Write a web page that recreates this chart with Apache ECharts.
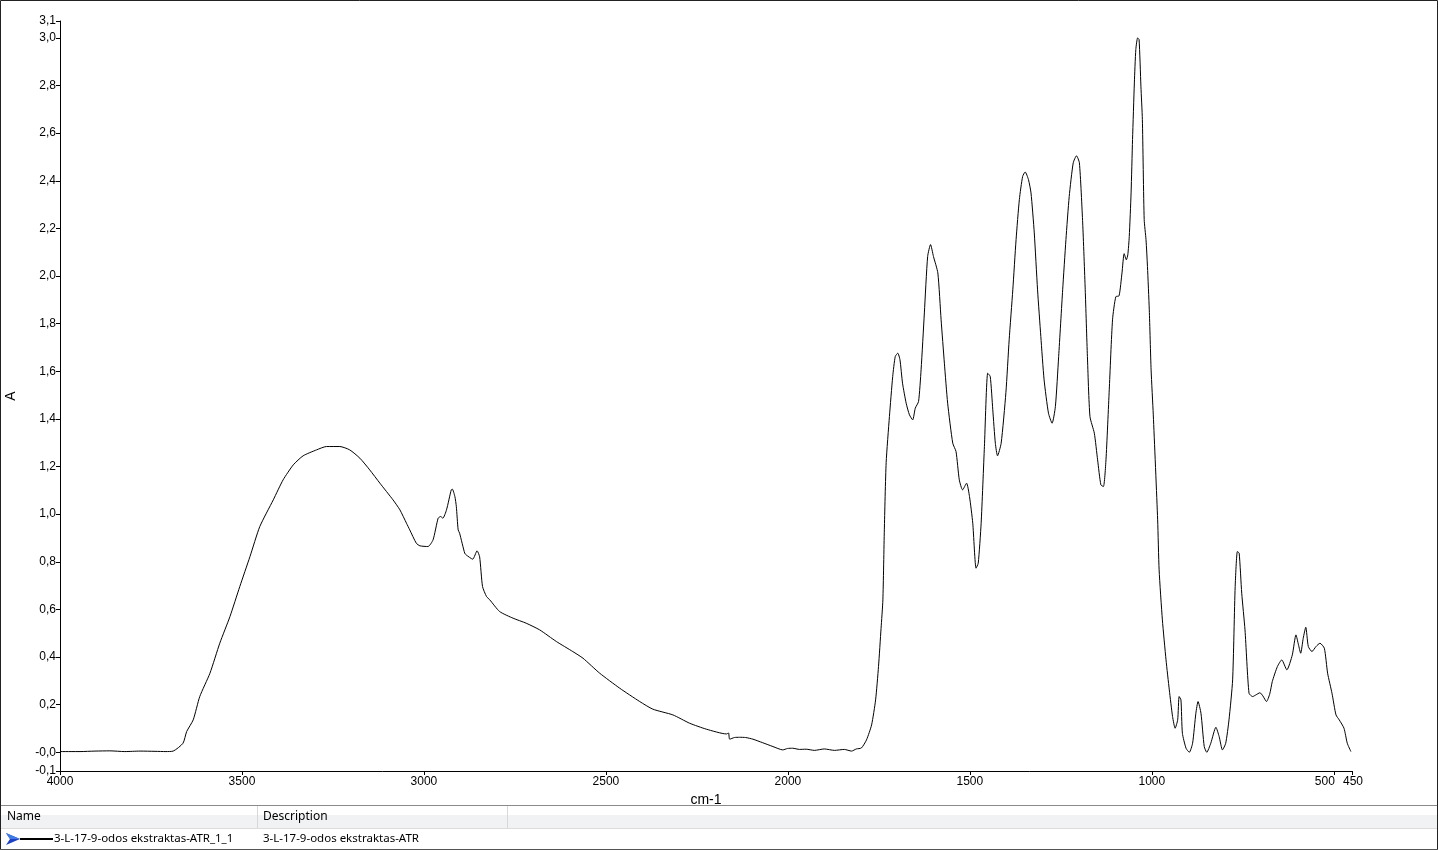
<!DOCTYPE html>
<html>
<head>
<meta charset="utf-8">
<script src="https://cdn.jsdelivr.net/npm/echarts@6/dist/echarts.min.js"></script>
<style>
html,body{margin:0;padding:0;background:#fff;}
#chart{width:1438px;height:850px;}
</style>
</head>
<body>
<div id="chart"></div>
<script>
// Wavenumbers (cm-1) and absorbance
const wavenumber = [
4000,3945,3904,3863,3822,3780,3739,3709,3689,3662,3652,3634,3616,3588,3561,3533,3506,3478,3451,3414,
3387,3359,3332,3295,3268,3231,3204,3176,3149,3121,3085,3066,3048,3039,3021,3011,2989,2975,2961,2954,
2948,2938,2925,2922,2915,2911,2906,2902,2888,2884,2866,2854,2847,2839,2828,2819,2792,2755,2719,2682,
2636,2591,2563,2517,2462,2407,2371,2316,2270,2224,2169,2163,2160,2147,2133,2116,2096,2069,2041,2014,
2001,1987,1968,1950,1927,1900,1872,1845,1825,1812,1798,1784,1770,1759,1751,1744,1739,1735,1730,1721,
1712,1705,1698,1692,1685,1675,1666,1657,1650,1641,1634,1625,1616,1608,1600,1588,1579,1570,1561,1547,
1538,1529,1520,1509,1501,1492,1483,1477,1469,1460,1451,1444,1437,1430,1424,1414,1401,1392,1382,1373,
1364,1355,1348,1339,1332,1323,1314,1305,1296,1284,1274,1265,1256,1245,1236,1227,1216,1207,1199,1190,
1183,1177,1170,1158,1149,1140,1133,1126,1117,1108,1099,1090,1082,1076,1070,1066,1062,1057,1053,1048,
1044,1039,1035,1030,1026,1021,1016,1012,1007,1002,996,984,980,971,961,952,943,936,929,925,
920,916,906,897,888,879,873,865,856,849,838,824,815,806,797,788,778,771,765,760,
753,744,733,723,714,703,695,685,676,669,655,643,629,614,604,597,591,584,577,570,
560,549,538,526,517,505,494,485,472,463,453
];
const absorbance = [
0.003,0.003,0.005,0.006,0.003,0.005,0.004,0.003,0.005,0.038,0.087,0.136,0.234,0.332,0.458,0.570,0.696,0.822,0.948,1.060,
1.144,1.207,1.245,1.270,1.284,1.284,1.270,1.235,1.186,1.130,1.060,1.018,0.962,0.934,0.878,0.867,0.864,0.892,0.983,0.990,
0.983,1.018,1.102,1.105,1.074,1.032,0.934,0.920,0.836,0.829,0.811,0.846,0.821,0.696,0.654,0.640,0.591,0.563,0.542,0.514,
0.465,0.423,0.395,0.332,0.269,0.213,0.181,0.157,0.122,0.097,0.077,0.081,0.055,0.062,0.063,0.062,0.055,0.040,0.024,0.010,
0.016,0.017,0.012,0.013,0.008,0.014,0.008,0.012,0.005,0.014,0.018,0.052,0.115,0.220,0.360,0.520,0.640,0.934,1.216,1.410,
1.578,1.662,1.676,1.648,1.550,1.466,1.417,1.396,1.445,1.473,1.606,1.845,2.082,2.132,2.082,2.013,1.816,1.634,1.466,1.298,
1.263,1.144,1.102,1.130,1.074,0.962,0.773,0.794,0.962,1.284,1.592,1.578,1.438,1.298,1.245,1.298,1.510,1.732,1.942,2.153,
2.321,2.418,2.437,2.405,2.349,2.181,1.942,1.746,1.564,1.424,1.382,1.452,1.662,1.942,2.153,2.334,2.475,2.505,2.475,2.223,
1.942,1.662,1.410,1.340,1.228,1.123,1.116,1.228,1.522,1.816,1.913,1.917,2.013,2.094,2.068,2.089,2.166,2.349,2.573,2.811,
2.951,3.000,2.993,2.797,2.657,2.237,2.153,2.040,1.858,1.606,1.417,0.976,0.766,0.556,0.388,0.262,0.150,0.101,0.136,0.234,
0.220,0.080,0.017,0.000,0.038,0.164,0.213,0.164,0.024,0.000,0.038,0.105,0.066,0.010,0.038,0.136,0.304,0.696,0.843,0.836,
0.668,0.514,0.248,0.234,0.241,0.250,0.237,0.213,0.245,0.297,0.360,0.388,0.346,0.409,0.493,0.451,0.416,0.479,0.525,0.444,
0.423,0.444,0.458,0.437,0.332,0.248,0.157,0.136,0.101,0.038,0.003
];

// Axis ticks and labels
const xTickValues = [4000,3500,3000,2500,2000,1500,1000,500,450];
const xTickLabels = ['4000','3500','3000','2500','2000','1500','1000','500','450'];
const yMin = -0.0786, yMax = 3.071;
const yTickValues = [yMin,0,0.2,0.4,0.6,0.8,1.0,1.2,1.4,1.6,1.8,2.0,2.2,2.4,2.6,2.8,3.0,yMax];
const yTickLabels = ['-0,1','-0,0','0,2','0,4','0,6','0,8','1,0','1,2','1,4','1,6','1,8','2,0','2,2','2,4','2,6','2,8','3,0','3,1'];

const seriesName = '3-L-17-9-odos ekstraktas-ATR_1_1';
const seriesDescription = '3-L-17-9-odos ekstraktas-ATR';

const points = wavenumber.map((w,i)=>[w, absorbance[i]]);
const axisFont = 'Liberation Sans, Arial, sans-serif';
const uiFont = 'Noto Sans, Open Sans, sans-serif';

const chart = echarts.init(document.getElementById('chart'), null, {renderer:'canvas'});
chart.setOption({
  animation: false,
  backgroundColor: '#fff',
  grid: {left: 60, right: 86, top: 21, bottom: 79, containLabel: false, outerBoundsMode: 'none'},
  xAxis: {
    type: 'value', inverse: true, min: 450, max: 4000,
    name: 'cm-1', nameLocation: 'middle', nameGap: 19,
    nameTextStyle: {fontFamily: axisFont, fontSize: 14, color: '#000'},
    axisLine: {show: true, onZero: false, lineStyle: {color: '#000', width: 1}},
    axisTick: {show: true, length: 4, customValues: xTickValues, lineStyle: {color: '#000'}},
    axisLabel: {
      customValues: xTickValues, margin: 5, color: '#000', fontFamily: axisFont, fontSize: 12,
      formatter: v => {
        const i = xTickValues.indexOf(v);
        const t = i >= 0 ? xTickLabels[i] : '';
        if (v === 500) return '{l|' + t + '}';
        if (v === 450) return '{r|' + t + '}';
        return t;
      },
      rich: {
        l: {padding: [0, 18, 0, 0], fontFamily: axisFont, fontSize: 12, color: '#000'},
        r: {padding: [0, 0, 0, 2], fontFamily: axisFont, fontSize: 12, color: '#000'}
      }
    },
    splitLine: {show: false}
  },
  yAxis: {
    type: 'value', min: yMin, max: yMax,
    name: 'A', nameLocation: 'middle', nameGap: 42, nameRotate: 90,
    nameTextStyle: {fontFamily: axisFont, fontSize: 14, color: '#000'},
    axisLine: {show: true, onZero: false, lineStyle: {color: '#000', width: 1}},
    axisTick: {show: true, length: 4, customValues: yTickValues, lineStyle: {color: '#000'}},
    axisLabel: {
      customValues: yTickValues, margin: 4, color: '#000', fontFamily: axisFont, fontSize: 12,
      formatter: v => {
        let best = 0, d = Infinity;
        yTickValues.forEach((t, i) => { const dd = Math.abs(t - v); if (dd < d) { d = dd; best = i; } });
        return yTickLabels[best];
      }
    },
    splitLine: {show: false}
  },
  series: [{
    name: seriesName,
    type: 'line',
    data: points,
    showSymbol: false,
    symbol: 'none',
    smooth: 0.2,
    lineStyle: {color: '#000', width: 1},
    clip: true
  }],
  graphic: [
    // outer frame
    {type: 'rect', shape: {x: 0.5, y: 0.5, width: 1437, height: 849}, style: {fill: 'none', stroke: '#222', lineWidth: 1}, silent: true},
    // table header background
    {type: 'rect', shape: {x: 1, y: 806, width: 1436, height: 9}, style: {fill: '#ffffff'}, silent: true},
    {type: 'rect', shape: {x: 1, y: 815, width: 1436, height: 13}, style: {fill: '#f1f2f4'}, silent: true},
    // separators
    {type: 'line', shape: {x1: 1, y1: 805.5, x2: 1437, y2: 805.5}, style: {stroke: '#8a8a8a', lineWidth: 1}, silent: true},
    {type: 'line', shape: {x1: 1, y1: 828.5, x2: 1437, y2: 828.5}, style: {stroke: '#dcdcdc', lineWidth: 1}, silent: true},
    {type: 'line', shape: {x1: 257.5, y1: 806, x2: 257.5, y2: 828}, style: {stroke: '#d8d8d8', lineWidth: 1}, silent: true},
    {type: 'line', shape: {x1: 507.5, y1: 806, x2: 507.5, y2: 828}, style: {stroke: '#d8d8d8', lineWidth: 1}, silent: true},
    {type: 'line', shape: {x1: 1, y1: 849.5, x2: 1437, y2: 849.5}, style: {stroke: '#555', lineWidth: 1}, silent: true},
    // header texts
    {type: 'text', x: 7, y: 817, style: {text: 'Name', fill: '#000', font: '12px ' + uiFont, textVerticalAlign: 'middle'}, silent: true},
    {type: 'text', x: 263, y: 817, style: {text: 'Description', fill: '#000', font: '12px ' + uiFont, textVerticalAlign: 'middle'}, silent: true},
    // row icon
    {type: 'polygon', shape: {points: [[6, 833], [20, 839], [6, 845], [10, 839]]}, style: {fill: '#1d3fc4'}, silent: true},
    {type: 'polygon', shape: {points: [[6, 833], [20, 839], [10, 839]]}, style: {fill: '#3f7be6'}, silent: true},
    {type: 'line', shape: {x1: 20, y1: 839, x2: 53, y2: 839}, style: {stroke: '#000', lineWidth: 2}, silent: true},
    // row texts
    {type: 'text', x: 54, y: 839, style: {text: seriesName, fill: '#000', font: '11.5px ' + uiFont, textVerticalAlign: 'middle'}, silent: true},
    {type: 'text', x: 263, y: 839, style: {text: seriesDescription, fill: '#000', font: '11.5px ' + uiFont, textVerticalAlign: 'middle'}, silent: true}
  ]
});
</script>
</body>
</html>
